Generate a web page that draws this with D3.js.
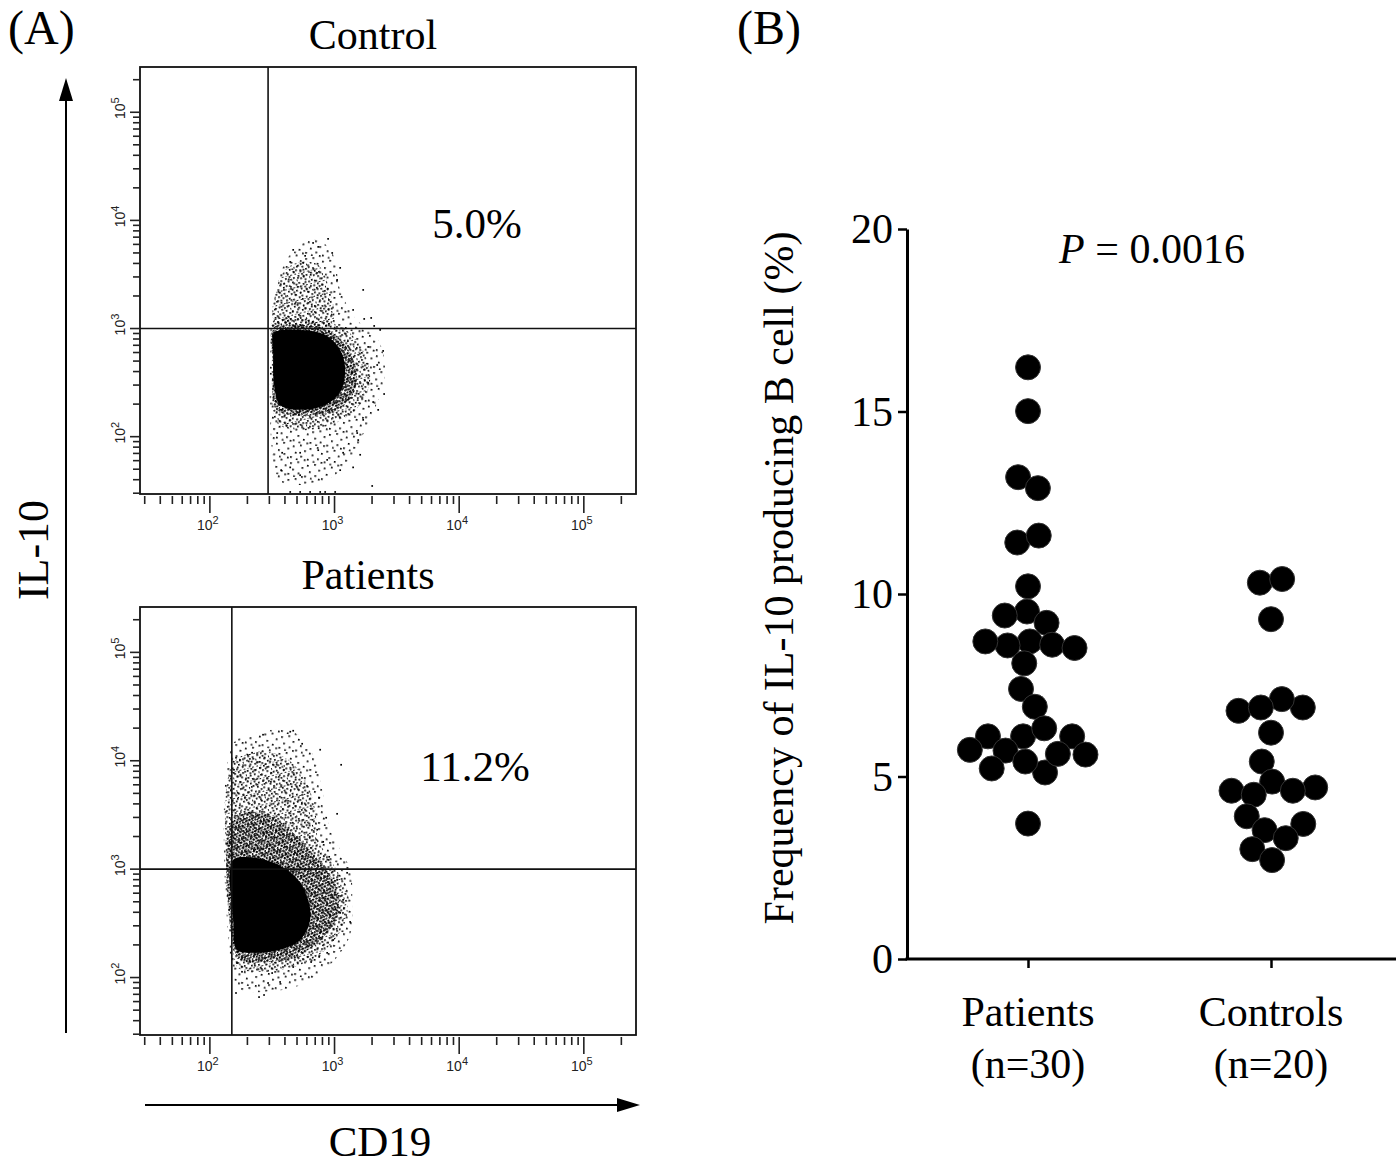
<!DOCTYPE html>
<html><head><meta charset="utf-8">
<script src="https://cdn.jsdelivr.net/npm/d3@7"></script>
<style>
html,body{margin:0;padding:0;background:#fff;}
svg{display:block;}
text{font-family:"Liberation Serif","Times New Roman",serif;fill:#000;}
text.tk{font-family:"Liberation Sans",Arial,sans-serif;fill:#222;}
</style></head><body>
<svg id="chart" width="1396" height="1168"></svg>
<script>
// ================= DATA =================
// Panel A : flow cytometry (CD19 vs IL-10), values in fluorescence units
const flowTitles = ["Control", "Patients"];
const flowPercents = ["5.0%", "11.2%"];
const flowDecades = [2, 3, 4, 5];
const flowXDomain = [27.5, 262144];
const flowYDomain = [29.5, 262144];
const controlGate = [293, 1000];   // [CD19, IL-10]
const patientGate = [150, 1000];

// density contours: [CD19, IL-10]
const controlSparse = [[328,1839],[402,4130],[530,5930],[740,6600],[975,4800],[1110,2276],[1464,1253],[2240,785],[2548,397],[2240,219],[1762,115],[1334,61],[923,41.5],[530,35.7],[353,40],[310,93],[310,971]];
const controlPlume  = [[334,1151],[340,2276],[402,3485],[530,4130],[740,3870],[888,2530],[958,1151]];
const controlMedium = [[316,1151],[530,1253],[923,1151],[1383,873],[1762,570],[1932,335],[1667,209],[1217,149],[767,120],[483,115],[340,137],[316,271],[316,705]];
const controlDense  = [[322,1014],[530,1080],[888,971],[1217,705],[1464,460],[1464,271],[1110,184],[699,159],[441,159],[334,184],[322,460]];
const controlCore   = [[328,910],[530,971],[841,873],[1110,634],[1217,414],[1110,259],[841,196],[530,177],[366,196],[328,301],[322,570]];
const controlEvents = [[673,6190],[888,6750],[740,5690],[581,4700],[466,5340],[1110,3640],[1698,2276],[1968,1253],[2080,1057],[2324,971],[2455,621],[2500,248],[2240,177],[1606,68],[1549,93],[2005,35],[1410,52],[1110,49],[530,44],[373,49],[441,30.8],[530,30.8],[637,30.8],[767,30.8],[841,30.8],[1012,30.8],
  [441,4130],[560,4050],[958,5000],[1049,2816],[1410,1486],[1730,1227],[1862,676],[2200,460],[1862,314],[2042,209],[1698,143],[1520,108],[1172,71],[873,61],[530,71],[380,71],[347,108],[441,52],[740,75]];

const patientSparse = [[151,14050],[210,17380],[334,19330],[511,17380],[699,10210],[796,5400],[923,2310],[1334,985],[1383,468],[1334,247],[923,131],[530,85],[278,74],[175,77],[151,118]];
const patientMedium = [[151,9180],[231,12110],[402,10660],[581,6680],[699,3530],[740,1866],[923,1219],[1217,716],[1262,378],[1069,247],[699,152],[441,123],[253,113],[168,123],[151,222]];
const patientDense  = [[151,2740],[231,3380],[366,2740],[530,1866],[767,1167],[1012,716],[1069,378],[841,247],[530,162],[304,139],[175,146],[151,222]];
const patientCore   = [[154,1219],[231,1271],[366,1072],[511,796],[614,521],[637,340],[530,222],[366,180],[231,169],[165,180],[154,340]];
const patientEvents = [[267,17380],[441,18530],[466,18920],[767,12640],[1130,9180],[1049,3240],[550,14350],[218,11860],[1334,326],[1262,925],[1172,521],[873,169],[649,139],[162,72],[248,66],[272,69],[293,89],[366,91],[316,110],
  [162,10660],[156,8260],[753,4550],[857,2980],[726,2310],[811,1787],[906,1300],[1049,796],[1110,395],[975,222],[753,155],[466,125],[181,113],[165,136]];

// Panel B : frequency of IL-10 producing B cells (%)
const groupNames = ["Patients", "Controls"];
const groupN = ["(n=30)", "(n=20)"];
const patientsFreq = [16.21,15.01,13.20,12.90,11.41,11.60,10.21,9.52,9.41,9.21,8.70,8.61,8.59,8.52,8.70,8.10,7.40,6.91,6.10,6.10,6.10,6.32,5.71,5.60,5.22,5.11,5.41,5.62,5.73,3.71];
const controlsFreq = [10.31,10.41,9.31,6.89,6.80,7.12,6.89,6.20,5.41,4.70,4.61,4.86,4.50,4.61,3.91,3.70,3.53,3.31,3.01,2.71];
const freqTicks = [0, 5, 10, 15, 20];
const pText = "0.0016";

// ================= DRAW =================
const svg = d3.select("#chart");
const defs = svg.append("defs");
function addPattern(id, size, dots, rot, s) {
  const p = defs.append("pattern").attr("id", id).attr("patternUnits", "userSpaceOnUse")
    .attr("width", size).attr("height", size).attr("patternTransform", `rotate(${rot})`);
  dots.forEach(d => p.append("rect").attr("x", d[0]).attr("y", d[1]).attr("width", s).attr("height", s).attr("fill", "#000"));
}
// stipple tiles (hand-placed, irregular)
addPattern("lv1", 17, [[2,3],[9,1],[14,6],[5,9],[11,12],[1,14],[15,15],[7,15.5]], 9, 1.7);
addPattern("lv2", 13, [[1,1],[5,0],[9,2],[12,5],[3,4],[7,6],[0,8],[10,9],[4,10],[7,12],[11.5,12],[2,12.5],[6,3]], -14, 1.7);
addPattern("lv3", 9, [[0,0],[3,0.5],[6,1],[1,3],[4,3.5],[7,4],[2,6],[5,6.5],[8,7],[0.5,8],[4,8.5],[7.5,2]], 31, 1.8);

const FX0 = 140, FX1 = 636;
function flowPlot(cfg) {
  const xs = d3.scaleLog().domain(flowXDomain).range([FX0, FX1]);
  const ys = d3.scaleLog().domain(flowYDomain).range([cfg.y1, cfg.y0]);
  const g = svg.append("g");
  const majors = flowDecades.map(d => Math.pow(10, d));
  const isMajor = v => majors.some(m => Math.abs(m - v) / m < 1e-6);
  const line = d3.line().x(d => xs(d[0])).y(d => ys(d[1])).curve(d3.curveCatmullRomClosed.alpha(0.5));

  cfg.regions.forEach(r => {
    g.append("path").attr("d", line(r.pts)).attr("fill", r.fill).attr("stroke", "none");
  });
  g.selectAll("rect.ev").data(cfg.events).join("rect").attr("class", "ev")
    .attr("x", d => xs(d[0]) - 0.85).attr("y", d => ys(d[1]) - 0.85)
    .attr("width", 1.7).attr("height", 1.7).attr("fill", "#000");

  // gates
  g.append("line").attr("x1", xs(cfg.gate[0])).attr("x2", xs(cfg.gate[0]))
    .attr("y1", cfg.y0).attr("y2", cfg.y1).attr("stroke", "#111").attr("stroke-width", 1.6);
  g.append("line").attr("x1", FX0).attr("x2", FX1)
    .attr("y1", ys(cfg.gate[1])).attr("y2", ys(cfg.gate[1])).attr("stroke", "#111").attr("stroke-width", 1.6);
  // box
  g.append("rect").attr("x", FX0).attr("y", cfg.y0).attr("width", FX1 - FX0).attr("height", cfg.y1 - cfg.y0)
    .attr("fill", "none").attr("stroke", "#111").attr("stroke-width", 1.8);

  // ticks
  const xt = xs.ticks().filter(v => v >= flowXDomain[0] && v <= flowXDomain[1]);
  g.selectAll("line.xt").data(xt).join("line").attr("class", "xt")
    .attr("x1", d => xs(d)).attr("x2", d => xs(d))
    .attr("y1", cfg.y1 + 2).attr("y2", d => cfg.y1 + (isMajor(d) ? 19 : 10))
    .attr("stroke", "#222").attr("stroke-width", 1.6);
  const yt = ys.ticks().filter(v => v >= flowYDomain[0] && v <= flowYDomain[1]);
  g.selectAll("line.yt").data(yt).join("line").attr("class", "yt")
    .attr("y1", d => ys(d)).attr("y2", d => ys(d))
    .attr("x1", d => FX0 - (isMajor(d) ? 10 : 7)).attr("x2", FX0)
    .attr("stroke", "#222").attr("stroke-width", 1.6);

  flowDecades.forEach(dec => {
    const v = Math.pow(10, dec);
    const tx = g.append("text").attr("class", "tk").attr("x", xs(v) - 2).attr("y", cfg.y1 + 36)
      .attr("text-anchor", "middle").attr("font-size", 14);
    tx.append("tspan").text("10");
    tx.append("tspan").attr("dy", -6).attr("font-size", 11).text(dec);
    const ty = g.append("text").attr("class", "tk")
      .attr("transform", `translate(${FX0 - 15},${ys(v) - 4}) rotate(-90)`)
      .attr("text-anchor", "middle").attr("font-size", 14);
    ty.append("tspan").text("10");
    ty.append("tspan").attr("dy", -6).attr("font-size", 11).text(dec);
  });

  svg.append("text").attr("x", cfg.titleX).attr("y", cfg.titleY).attr("text-anchor", "middle")
    .attr("font-size", 42).text(cfg.title);
  svg.append("text").attr("x", cfg.pctX).attr("y", cfg.pctY).attr("text-anchor", "middle")
    .attr("font-size", 43).text(cfg.pct);
}

flowPlot({
  y0: 67, y1: 494, title: flowTitles[0], pct: flowPercents[0], gate: controlGate,
  titleX: 373, titleY: 49, pctX: 477, pctY: 238, events: controlEvents,
  regions: [
    {pts: controlSparse, fill: "url(#lv1)"},
    {pts: controlPlume, fill: "url(#lv2)"},
    {pts: controlMedium, fill: "url(#lv2)"},
    {pts: controlDense, fill: "url(#lv3)"},
    {pts: controlCore, fill: "#000"}
  ]
});
flowPlot({
  y0: 607, y1: 1035, title: flowTitles[1], pct: flowPercents[1], gate: patientGate,
  titleX: 368, titleY: 589, pctX: 475, pctY: 781, events: patientEvents,
  regions: [
    {pts: patientSparse, fill: "url(#lv1)"},
    {pts: patientMedium, fill: "url(#lv2)"},
    {pts: patientDense, fill: "url(#lv3)"},
    {pts: patientCore, fill: "#000"}
  ]
});

// panel labels and axis arrows of panel A
svg.append("text").attr("x", 8).attr("y", 44).attr("font-size", 48).text("(A)");
svg.append("text").attr("x", 737).attr("y", 44).attr("font-size", 48).text("(B)");
svg.append("line").attr("x1", 66).attr("x2", 66).attr("y1", 1033).attr("y2", 96).attr("stroke", "#000").attr("stroke-width", 2);
svg.append("path").attr("d", "M66,78 L59,101 L73,101 Z").attr("fill", "#000");
svg.append("text").attr("transform", "translate(48,550) rotate(-90)").attr("text-anchor", "middle")
  .attr("font-size", 44).text("IL-10");
svg.append("line").attr("x1", 145).attr("x2", 622).attr("y1", 1105).attr("y2", 1105).attr("stroke", "#000").attr("stroke-width", 2);
svg.append("path").attr("d", "M640,1105 L617,1098 L617,1112 Z").attr("fill", "#000");
svg.append("text").attr("x", 380).attr("y", 1156).attr("text-anchor", "middle").attr("font-size", 43).text("CD19");

// ---------- Panel B ----------
const BX = 907, BRIGHT = 1396;
const yB = d3.scaleLinear().domain([0, 20]).range([959, 229]);
const xB = d3.scalePoint().domain(groupNames).range([1028, 1271]);
const gB = svg.append("g");

const yAxis = d3.axisLeft(yB).tickValues(freqTicks).tickSize(9).tickSizeOuter(0).tickPadding(5);
const ga = gB.append("g").attr("transform", `translate(${BX},0)`).call(yAxis);
ga.select(".domain").attr("stroke", "#000").attr("stroke-width", 3);
ga.selectAll(".tick line").attr("stroke", "#000").attr("stroke-width", 2.5);
ga.selectAll(".tick text").attr("font-size", 42).attr("fill", "#000")
  .attr("font-family", "'Liberation Serif','Times New Roman',serif").attr("dy", "0.33em");

const xAxis = d3.axisBottom(xB).tickSize(9).tickSizeOuter(0).tickFormat("");
const gx = gB.append("g").attr("transform", `translate(0,${yB(0)})`).call(xAxis);
gx.select(".domain").remove();
gx.selectAll(".tick line").attr("stroke", "#000").attr("stroke-width", 2.5);
gB.append("line").attr("x1", BX - 1.5).attr("x2", BRIGHT).attr("y1", yB(0)).attr("y2", yB(0))
  .attr("stroke", "#000").attr("stroke-width", 3);

groupNames.forEach((name, i) => {
  gB.append("text").attr("x", xB(name)).attr("y", 1026).attr("text-anchor", "middle").attr("font-size", 42).text(name);
  gB.append("text").attr("x", xB(name)).attr("y", 1078).attr("text-anchor", "middle").attr("font-size", 42).text(groupN[i]);
});

gB.append("text").attr("transform", "translate(793,578) rotate(-90)").attr("text-anchor", "middle")
  .attr("font-size", 42).text("Frequency of IL-10 producing B cell (%)");

const pt = gB.append("text").attr("x", 1152).attr("y", 263).attr("text-anchor", "middle").attr("font-size", 42);
pt.append("tspan").attr("font-style", "italic").text("P");
pt.append("tspan").text(" = " + pText);

// beeswarm layout via d3-force (y fixed to the value)
const R = 12.5;
const nodes = [];
[patientsFreq, controlsFreq].forEach((arr, gi) => {
  arr.forEach((v, i) => nodes.push({
    g: groupNames[gi], v: v,
    x: xB(groupNames[gi]) + ((i % 2) ? 1 : -1) * (1 + (i % 5) * 2),
    fy: yB(v)
  }));
});
nodes.forEach(n => n.y = n.fy);
const sim = d3.forceSimulation(nodes)
  .force("x", d3.forceX(d => xB(d.g)).strength(0.06))
  .force("collide", d3.forceCollide(11.3).iterations(3))
  .velocityDecay(0.3)
  .stop();
sim.tick(500);

gB.selectAll("circle.pt").data(nodes).join("circle").attr("class", "pt")
  .attr("cx", d => d.x).attr("cy", d => yB(d.v)).attr("r", R)
  .attr("fill", "#000").attr("stroke", "#333").attr("stroke-width", 1);
</script>
</body></html>
